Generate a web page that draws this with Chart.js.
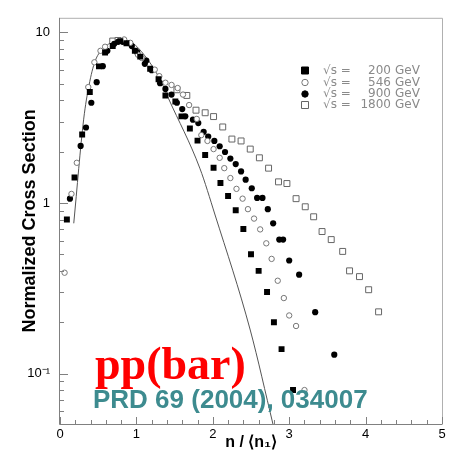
<!DOCTYPE html>
<html>
<head>
<meta charset="utf-8">
<script src="https://cdn.jsdelivr.net/npm/chart.js@4.4.1/dist/chart.umd.min.js"></script>
<style>
  html, body { margin: 0; padding: 0; background: #fff; }
</style>
</head>
<body>
<canvas id="multChart" width="450" height="452"></canvas>
<script>
// multiplicity distributions, n/<n> vs normalized cross section
var x200 = [0.09, 0.19, 0.29, 0.39, 0.51, 0.59, 0.69, 0.79, 0.87, 0.98, 1.05, 1.18, 1.29, 1.38, 1.51, 1.59, 1.70, 1.80, 1.90, 2.01, 2.10, 2.20, 2.30, 2.40, 2.50, 2.60, 2.71, 2.80, 2.90, 3.05];
var y200 = [0.80, 1.41, 2.52, 4.47, 6.32, 7.62, 8.32, 8.89, 8.63, 7.80, 7.21, 6.12, 5.31, 4.27, 3.93, 3.22, 2.73, 2.32, 1.91, 1.61, 1.31, 1.10, 0.906, 0.703, 0.500, 0.400, 0.301, 0.200, 0.139, 0.080];

var x546 = [0.06, 0.15, 0.22, 0.37, 0.45, 0.53, 0.59, 0.84, 0.92, 1.02, 1.07, 1.24, 1.30, 1.38, 1.46, 1.54, 1.61, 1.69, 1.79, 1.85, 1.93, 2.01, 2.09, 2.15, 2.23, 2.31, 2.39, 2.46, 2.54, 2.62, 2.70, 2.77, 2.85, 2.93, 3.00, 3.09, 3.20];
var y546 = [0.39, 1.13, 1.72, 4.78, 6.68, 7.80, 8.24, 9.09, 8.69, 7.40, 7.08, 6.05, 5.54, 5.07, 4.92, 4.72, 4.32, 3.75, 3.11, 2.50, 2.31, 2.07, 1.84, 1.60, 1.40, 1.21, 1.06, 0.92, 0.81, 0.70, 0.58, 0.47, 0.35, 0.277, 0.219, 0.190, 0.080];

var x900 = [0.13, 0.27, 0.34, 0.41, 0.48, 0.56, 0.62, 0.71, 0.76, 0.82, 0.94, 1.01, 1.11, 1.13, 1.20, 1.31, 1.38, 1.46, 1.53, 1.60, 1.64, 1.74, 1.81, 1.88, 1.94, 2.02, 2.09, 2.16, 2.23, 2.30, 2.37, 2.43, 2.51, 2.58, 2.65, 2.72, 2.79, 2.87, 2.92, 3.00, 3.13, 3.34, 3.59];
var y900 = [1.06, 2.16, 2.77, 3.87, 5.11, 6.34, 7.80, 8.58, 8.81, 8.81, 8.32, 7.66, 6.54, 6.84, 6.00, 5.04, 4.66, 4.32, 3.87, 3.55, 3.22, 3.08, 2.94, 2.61, 2.45, 2.31, 2.15, 1.99, 1.82, 1.69, 1.53, 1.37, 1.22, 1.07, 1.07, 0.92, 0.76, 0.61, 0.61, 0.46, 0.38, 0.229, 0.129];

var x1800 = [0.69, 0.76, 1.53, 1.66, 1.78, 1.90, 2.01, 2.13, 2.25, 2.37, 2.49, 2.61, 2.73, 2.86, 2.97, 3.09, 3.21, 3.32, 3.43, 3.55, 3.70, 3.79, 3.92, 4.04, 4.17];
var y1800 = [8.90, 8.97, 4.61, 4.27, 3.50, 3.38, 3.21, 2.79, 2.37, 2.31, 2.07, 1.84, 1.60, 1.33, 1.30, 1.06, 0.95, 0.83, 0.68, 0.61, 0.52, 0.40, 0.37, 0.31, 0.23];

var xFit = [0.18, 0.31, 0.38, 0.46, 0.59, 0.76, 0.92, 1.11, 1.31, 1.42, 1.83, 2.03, 2.49, 2.79];
var yFit = [0.76, 3.1, 4.9, 6.8, 8.2, 9.0, 8.8, 7.3, 5.3, 4.1, 1.6, 0.85, 0.18, 0.05];

var energies = ["200", "546", "900", "1800"];
var yTickValues = [0.1, 1, 10];
var yTickLabels = ["10\u207B\u00B9", "1", "10"];

function pairs(xs, ys) {
    return xs.map(function(v, i) { return {x: v, y: ys[i]}; });
}

// frame + inward ticks like the original plot
var frameTicks = {
    id: 'frameTicks',
    afterDraw: function(chart) {
        var ctx = chart.ctx, a = chart.chartArea;
        var xs = chart.scales.x, ys = chart.scales.y;
        ctx.save();
        ctx.lineWidth = 1;
        ctx.strokeStyle = '#b0b0b0';
        ctx.beginPath();
        ctx.moveTo(a.left, a.top + 0.5);
        ctx.lineTo(a.right + 0.5, a.top + 0.5);
        ctx.lineTo(a.right + 0.5, a.bottom);
        ctx.stroke();
        ctx.strokeStyle = '#808080';
        ctx.beginPath();
        ctx.moveTo(a.left - 0.5, a.top);
        ctx.lineTo(a.left - 0.5, a.bottom + 0.5);
        ctx.lineTo(a.right + 0.5, a.bottom + 0.5);
        for (var i = 0; i <= 25; i++) {
            var px = Math.round(xs.getPixelForValue(i / 5)) + 0.5;
            var len = (i % 5 === 0) ? 7 : 4;
            ctx.moveTo(px, a.bottom);
            ctx.lineTo(px, a.bottom - len);
        }
        for (var d = -2; d <= 1; d++) {
            for (var m = 1; m <= 9; m++) {
                var v = m * Math.pow(10, d);
                if (v < ys.min || v > ys.max) continue;
                var py = Math.round(ys.getPixelForValue(v)) + 0.5;
                ctx.moveTo(a.left, py);
                ctx.lineTo(a.left + (m === 1 ? 8 : 4), py);
            }
        }
        ctx.stroke();
        ctx.restore();
    }
};

var legendAndText = {
    id: 'legendAndText',
    afterDraw: function(chart) {
        var ctx = chart.ctx;
        ctx.save();
        var rows = [70.5, 82.5, 94, 105];
        chart.data.datasets.slice(0, 4).forEach(function(ds, i) {
            var y = rows[i];
            ctx.fillStyle = ds.pointBackgroundColor;
            ctx.strokeStyle = ds.pointBorderColor;
            ctx.lineWidth = 1;
            ctx.beginPath();
            if (ds.pointStyle === 'rect') {
                ctx.rect(301.5, y - 3.5, 7, 7);
            } else {
                ctx.arc(305, y, 3.2, 0, Math.PI * 2);
            }
            ctx.fill();
            ctx.stroke();
            ctx.fillStyle = '#8a8a8a';
            ctx.font = '12px "DejaVu Sans"';
            ctx.textBaseline = 'middle';
            ctx.textAlign = 'left';
            ctx.fillText('\u221As =', 323, y);
            ctx.textAlign = 'right';
            ctx.fillText(energies[i], 391, y);
            ctx.textAlign = 'left';
            ctx.fillText('GeV', 395, y);
        });

        ctx.textAlign = 'left';
        ctx.textBaseline = 'alphabetic';
        ctx.fillStyle = '#ff0000';
        ctx.font = 'bold 46px "Liberation Serif"';
        ctx.fillText('pp(bar)', 95, 379);
        ctx.fillStyle = '#3d8b8f';
        ctx.font = 'bold 26px "Liberation Sans"';
        ctx.fillText('PRD 69 (2004), 034007', 93, 408);
        ctx.restore();
    }
};

new Chart("multChart", {
    type: "scatter",
    data: {
        datasets: [{
            label: "\u221As = 200 GeV",
            data: pairs(x200, y200),
            pointStyle: 'rect',
            pointRadius: 4.2,
            pointBackgroundColor: '#000',
            pointBorderColor: '#000',
            pointBorderWidth: 0
        }, {
            label: "\u221As = 546 GeV",
            data: pairs(x546, y546),
            pointStyle: 'circle',
            pointRadius: 2.7,
            pointBackgroundColor: '#fff',
            pointBorderColor: '#777',
            pointBorderWidth: 1
        }, {
            label: "\u221As = 900 GeV",
            data: pairs(x900, y900),
            pointStyle: 'circle',
            pointRadius: 3.1,
            pointBackgroundColor: '#000',
            pointBorderColor: '#000',
            pointBorderWidth: 0
        }, {
            label: "\u221As = 1800 GeV",
            data: pairs(x1800, y1800),
            pointStyle: 'rect',
            pointRadius: 4.2,
            pointBackgroundColor: '#fff',
            pointBorderColor: '#666',
            pointBorderWidth: 1
        }, {
            label: "fit",
            data: pairs(xFit, yFit),
            showLine: true,
            pointRadius: 0,
            borderColor: '#555',
            borderWidth: 1,
            cubicInterpolationMode: 'monotone'
        }]
    },
    options: {
        responsive: false,
        animation: false,
        layout: { padding: { top: 6, right: 8, left: 0, bottom: 0 } },
        plugins: {
            legend: { display: false },
            tooltip: { enabled: false }
        },
        scales: {
            x: {
                type: 'linear',
                min: 0,
                max: 5,
                grid: { display: false, drawTicks: false },
                border: { display: false },
                ticks: {
                    stepSize: 1,
                    padding: 3,
                    color: '#000',
                    font: { family: 'Liberation Sans', size: 13 }
                },
                title: {
                    display: true,
                    text: 'n / \u27E8n\u2081\u27E9',
                    color: '#000',
                    padding: 0,
                    font: { family: 'Liberation Sans', size: 16, weight: 'bold' }
                },
                afterFit: function(s) { s.height = 28; }
            },
            y: {
                type: 'logarithmic',
                min: 0.0506,
                max: 12.18,
                grid: { display: false, drawTicks: false },
                border: { display: false },
                afterBuildTicks: function(s) {
                    s.ticks = yTickValues.map(function(v) { return {value: v}; });
                },
                ticks: {
                    padding: 10,
                    color: '#000',
                    font: { family: 'Liberation Sans', size: 13 },
                    callback: function(v) {
                        var k = yTickValues.indexOf(v);
                        return k >= 0 ? yTickLabels[k] : '';
                    }
                },
                title: {
                    display: true,
                    text: 'Normalized Cross Section',
                    color: '#000',
                    padding: { top: 19, bottom: 0 },
                    font: { family: 'Liberation Sans', size: 18, weight: 'bold' }
                },
                afterFit: function(s) { s.width = 60; }
            }
        }
    },
    plugins: [frameTicks, legendAndText]
});
</script>
</body>
</html>
